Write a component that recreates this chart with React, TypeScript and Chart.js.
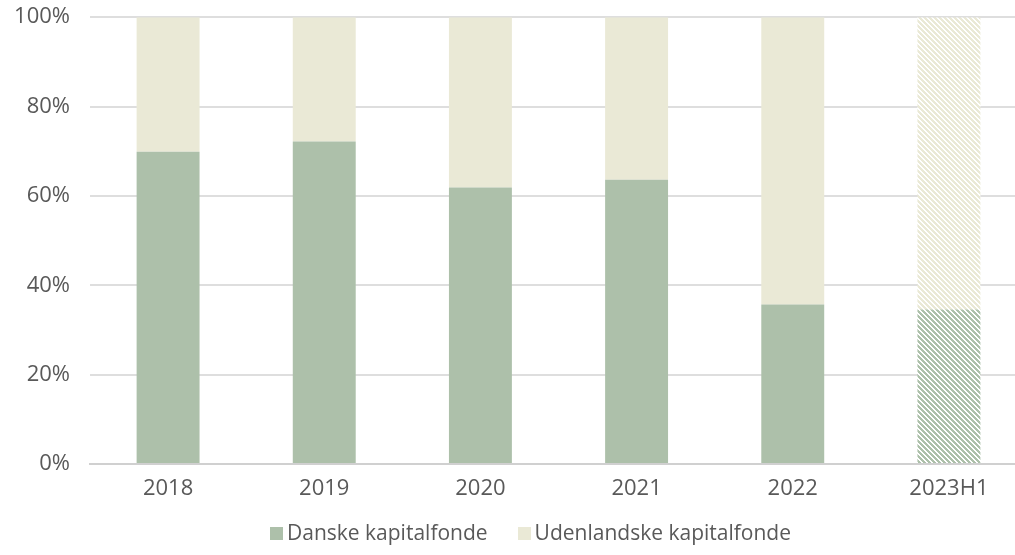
import React, { useEffect, useRef } from "react";
import { Chart, registerables } from "chart.js";

Chart.register(...registerables);

const categories = ["2018", "2019", "2020", "2021", "2022", "2023H1"];
const danske = [69.9, 72.2, 61.9, 63.6, 35.7, 34.6];
const udenlandske = [30.1, 27.8, 38.1, 36.4, 64.3, 65.4];
const seriesNames = ["Danske kapitalfonde", "Udenlandske kapitalfonde"];
const hatchedIndex = 5;

const GREEN = "#adc0aa";
const BEIGE = "#eae9d6";
const TEXT = "#595959";
const FONT = '"Open Sans", sans-serif';

function makePattern(color: string): CanvasPattern | string {
  const size = 5;
  const c = document.createElement("canvas");
  c.width = size;
  c.height = size;
  const ctx = c.getContext("2d");
  if (!ctx) return color;
  ctx.fillStyle = "#ffffff";
  ctx.fillRect(0, 0, size, size);
  ctx.fillStyle = color;
  for (let x = 0; x < size; x++) {
    for (let y = 0; y < size; y++) {
      const d = (((x - y) % size) + size) % size;
      if (d < 3) ctx.fillRect(x, y, 1, 1);
    }
  }
  const p = ctx.createPattern(c, "repeat");
  return p || color;
}

export default function App() {
  const ref = useRef<HTMLCanvasElement | null>(null);

  useEffect(() => {
    if (!ref.current) return;
    const greenPat = makePattern(GREEN);
    const beigePat = makePattern(BEIGE);
    const greenColors = categories.map((_, i) => (i === hatchedIndex ? greenPat : GREEN));
    const beigeColors = categories.map((_, i) => (i === hatchedIndex ? beigePat : BEIGE));

    const chart = new Chart(ref.current, {
      type: "bar",
      data: {
        labels: categories,
        datasets: [
          {
            label: seriesNames[0],
            data: danske,
            backgroundColor: greenColors as any,
            borderWidth: 0,
            categoryPercentage: 1,
            barPercentage: 0.403,
          },
          {
            label: seriesNames[1],
            data: udenlandske,
            backgroundColor: beigeColors as any,
            borderWidth: 0,
            categoryPercentage: 1,
            barPercentage: 0.403,
          },
        ],
      },
      options: {
        animation: false,
        responsive: false,
        maintainAspectRatio: false,
        devicePixelRatio: 1,
        layout: { padding: { top: 0, right: 13, bottom: 51, left: 0 } },
        plugins: {
          legend: { display: false },
          tooltip: { enabled: false },
        },
        scales: {
          x: {
            stacked: true,
            grid: { display: false, drawTicks: false },
            border: { display: true, color: "#d0d0d0", width: 2 },
            ticks: {
              color: TEXT,
              font: { family: FONT, size: 22 },
              padding: 12,
              maxRotation: 0,
            },
            afterFit: (s: any) => {
              s.height = 40;
            },
          },
          y: {
            stacked: true,
            min: 0,
            max: 100,
            grid: { color: "#dedede", lineWidth: 2, drawTicks: false },
            border: { display: false },
            ticks: {
              stepSize: 20,
              color: TEXT,
              font: { family: FONT, size: 22 },
              padding: 20,
              callback: (v: any) => v + "%",
            },
            afterFit: (s: any) => {
              s.width = 90;
            },
          },
        },
      },
    });
    return () => chart.destroy();
  }, []);

  const box = (color: string) => (
    <span
      style={{
        display: "inline-block",
        width: 13,
        height: 13,
        background: color,
        marginRight: 4,
        verticalAlign: "middle",
        position: "relative",
        top: -1,
      }}
    />
  );

  return (
    <div
      style={{
        position: "fixed",
        left: 0,
        top: 0,
        width: 1015,
        height: 555,
        overflow: "hidden",
        background: "#ffffff",
      }}
    >
      <canvas
        ref={ref}
        width={1040}
        height={571}
        style={{ position: "absolute", left: 0, top: -16, width: 1040, height: 571 }}
      />
      <div
        style={{
          position: "absolute",
          left: 270,
          top: 519,
          whiteSpace: "nowrap",
          fontFamily: FONT,
          fontSize: 21,
          color: TEXT,
          lineHeight: "26px",
        }}
      >
        {box(GREEN)}
        <span>{seriesNames[0]}</span>
        <span style={{ display: "inline-block", width: 30 }} />
        {box(BEIGE)}
        <span>{seriesNames[1]}</span>
      </div>
    </div>
  );
}
